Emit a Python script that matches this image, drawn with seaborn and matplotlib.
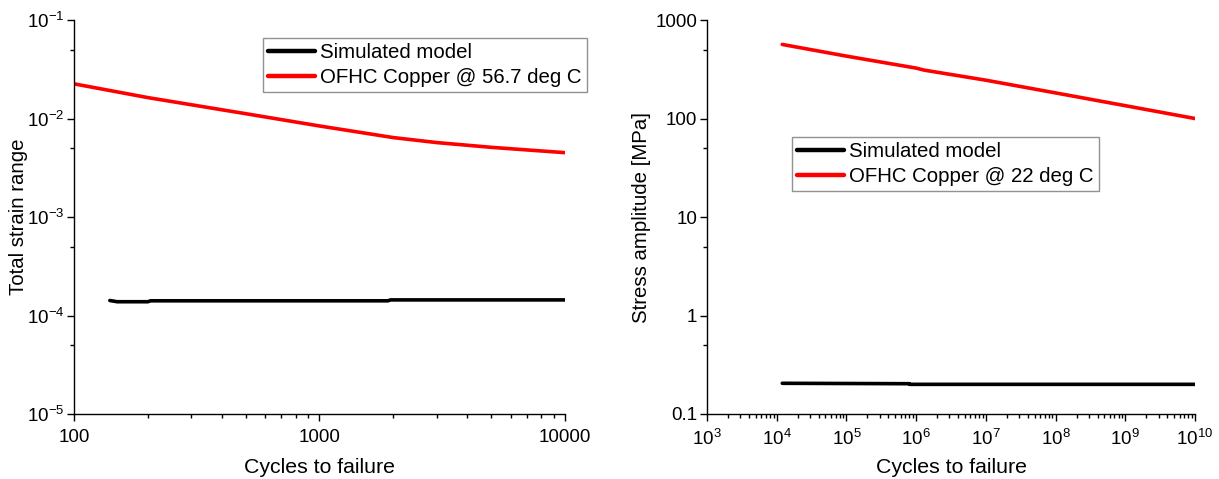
import numpy as np
import pandas as pd
import matplotlib
matplotlib.use("Agg")
import matplotlib.pyplot as plt
import matplotlib.ticker as mticker
import seaborn as sns

# Strain-life data (left panel)
strain_sim_cycles = [140, 150, 200, 205, 1900, 1950, 10000]
strain_sim_values = [1.42e-4, 1.38e-4, 1.38e-4, 1.41e-4, 1.41e-4, 1.44e-4, 1.44e-4]
strain_cu_cycles = [100, 200, 500, 1000, 2000, 3000, 5000, 10000]
strain_cu_values = [0.0225, 0.0163, 0.0112, 0.0084, 0.0064, 0.0057, 0.0051, 0.0045]

# Stress-life data (right panel)
stress_sim_cycles = [1.2e4, 8e5, 8.1e5, 1e10]
stress_sim_values = [0.205, 0.203, 0.200, 0.200]
stress_cu_cycles = [1.2e4, 1e5, 1e6, 1.3e6, 1e7, 1e8, 1e9, 1e10]
stress_cu_values = [565, 430, 325, 310, 245, 182, 135, 100]

labels_left = ["Simulated model", "OFHC Copper @ 56.7 deg C"]
labels_right = ["Simulated model", "OFHC Copper @ 22 deg C"]
palette = ["#000000", "#ff0000"]

sns.set_theme(style="ticks")
plt.rcParams["font.family"] = ["Liberation Sans", "DejaVu Sans"]
plt.rcParams["mathtext.default"] = "regular"
plt.rcParams["axes.unicode_minus"] = False
plt.rcParams["text.color"] = "black"
plt.rcParams["axes.labelcolor"] = "black"
plt.rcParams["xtick.color"] = "black"
plt.rcParams["ytick.color"] = "black"

def frame(xs, ys, labels):
    parts = []
    for x, y, lab in zip(xs, ys, labels):
        parts.append(pd.DataFrame({"cycles": x, "value": y, "series": lab}))
    return pd.concat(parts, ignore_index=True)

df_left = frame([strain_sim_cycles, strain_cu_cycles],
                [strain_sim_values, strain_cu_values], labels_left)
df_right = frame([stress_sim_cycles, stress_cu_cycles],
                 [stress_sim_values, stress_cu_values], labels_right)

fig = plt.figure(figsize=(12.19, 4.79), dpi=100)
ax1 = fig.add_axes([0.0607, 0.1357, 0.4028, 0.8225])
ax2 = fig.add_axes([0.5800, 0.1357, 0.4003, 0.8225])

legend_anchor = {ax1: (0.385, 0.954), ax2: (0.174, 0.703)}

for ax, df, labels in [(ax1, df_left, labels_left), (ax2, df_right, labels_right)]:
    sns.lineplot(data=df, x="cycles", y="value", hue="series", hue_order=labels,
                 palette=palette, linewidth=2.6, estimator=None, sort=False, ax=ax)
    ax.set_xscale("log")
    ax.set_yscale("log")
    sns.despine(ax=ax)
    for s in ["left", "bottom"]:
        ax.spines[s].set_linewidth(1.0)
        ax.spines[s].set_color("black")
    ax.tick_params(which="major", direction="out", length=5, width=1.0,
                   labelsize=13.5, color="black")
    ax.tick_params(axis="x", which="major", pad=6)
    ax.tick_params(axis="y", which="major", pad=2)
    ax.tick_params(which="minor", direction="out", length=2.8, width=1.0, color="black")
    ax.set_xlabel("Cycles to failure", fontsize=15.3)
    ax.xaxis.set_label_coords(0.5, -0.112)
    leg = ax.legend(loc="upper left", bbox_to_anchor=legend_anchor[ax],
                    borderaxespad=0, frameon=True, fancybox=False, fontsize=14.7,
                    handlelength=2.3, handletextpad=0.25, borderpad=0.25,
                    labelspacing=0.28)
    leg.get_frame().set_edgecolor("#777777")
    leg.get_frame().set_linewidth(1.0)
    for line in leg.get_lines():
        line.set_linewidth(3.2)

# Left panel axes
ax1.set_xlim(100, 10000)
ax1.set_ylim(1e-5, 1e-1)
ax1.xaxis.set_major_locator(mticker.FixedLocator([100, 1000, 10000]))
ax1.xaxis.set_major_formatter(mticker.FuncFormatter(lambda v, p: f"{v:g}"))
ax1.xaxis.set_minor_locator(mticker.LogLocator(base=10, subs=np.arange(2, 10)))
ax1.xaxis.set_minor_formatter(mticker.NullFormatter())
ax1.yaxis.set_major_locator(mticker.LogLocator(base=10, numticks=10))
ax1.yaxis.set_major_formatter(mticker.LogFormatterSciNotation())
ax1.yaxis.set_minor_locator(mticker.LogLocator(base=10, subs=[5.0]))
ax1.yaxis.set_minor_formatter(mticker.NullFormatter())
ax1.set_ylabel("Total strain range", fontsize=14.7)
ax1.yaxis.set_label_coords(-0.094, 0.5)

# Right panel axes
ax2.set_xlim(1e3, 1e10)
ax2.set_ylim(0.1, 1000)
ax2.xaxis.set_major_locator(mticker.LogLocator(base=10, numticks=12))
ax2.xaxis.set_major_formatter(mticker.LogFormatterSciNotation())
ax2.xaxis.set_minor_locator(mticker.LogLocator(base=10, subs=np.arange(2, 10), numticks=12))
ax2.xaxis.set_minor_formatter(mticker.NullFormatter())
ax2.yaxis.set_major_locator(mticker.FixedLocator([0.1, 1, 10, 100, 1000]))
ax2.yaxis.set_major_formatter(mticker.FuncFormatter(lambda v, p: f"{v:g}"))
ax2.yaxis.set_minor_locator(mticker.LogLocator(base=10, subs=[5.0]))
ax2.yaxis.set_minor_formatter(mticker.NullFormatter())
ax2.set_ylabel("Stress amplitude [MPa]", fontsize=14.7)
ax2.yaxis.set_label_coords(-0.115, 0.5)

fig.savefig("out.png", dpi=100, facecolor="white")
